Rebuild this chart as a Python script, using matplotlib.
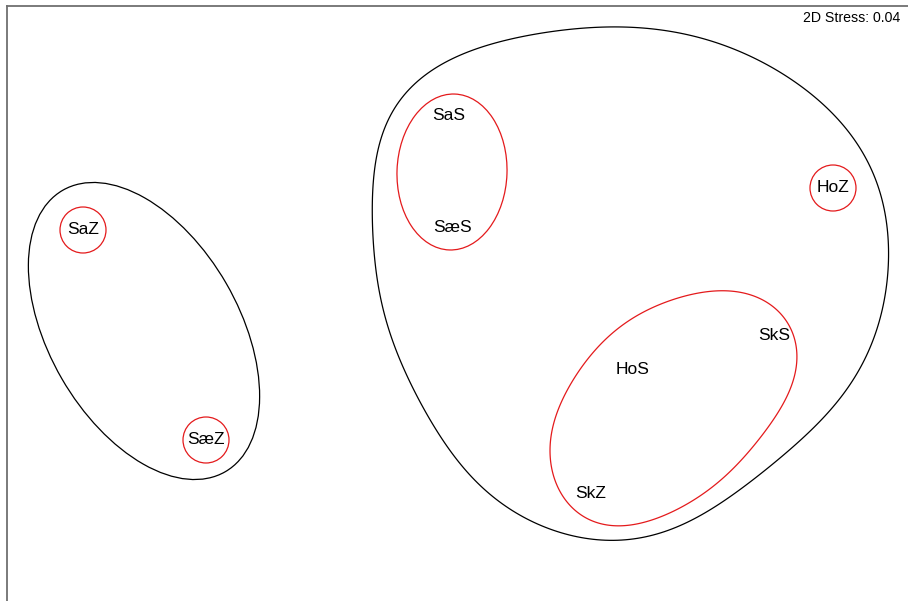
import numpy as np
import matplotlib
matplotlib.use("Agg")
import matplotlib.pyplot as plt
from matplotlib.patches import Ellipse, Polygon

# sample labels and their positions on the MDS plot (plot units)
labels = ["SaZ", "SæZ", "SaS", "SæS", "HoZ", "SkS", "HoS", "SkZ"]
mds_x = [83, 206, 449, 452, 833, 774, 633, 591]
mds_y = [230, 440, 116, 228, 188, 336, 369, 494]

# red overlays (higher similarity level): single samples get small circles
red_single = ["SaZ", "SæZ", "HoZ"]
red_radius = 23
# red ellipse round SaS / SæS: centre x, centre y, width, height, angle
red_ell_x = [452]
red_ell_y = [172]
red_ell_w = [110]
red_ell_h = [156]
red_ell_ang = [2]

# red outline round HoS / SkS / SkZ
red_out_x = [710, 670, 630, 590, 563, 550, 553, 565, 590, 617, 653, 687,
             733, 765, 787, 797, 790, 763]
red_out_y = [292, 300, 320, 357, 397, 447, 470, 500, 520, 526, 520, 503,
             470, 430, 397, 357, 327, 300]

# black overlay, left group (ellipse)
black_ell_x = [144]
black_ell_y = [331]
black_ell_w = [325]
black_ell_h = [190]
black_ell_ang = [60]

# black overlay, right group (smooth outline)
hull_x = [373, 375, 385, 400, 430, 480, 540, 610, 700, 790, 850, 878, 888,
          885, 865, 830, 780, 730, 680, 623, 565, 520, 467, 427, 397, 380]
hull_y = [230, 170, 125, 100, 72, 48, 33, 27, 38, 78, 135, 185, 230,
          290, 360, 410, 458, 497, 525, 541, 533, 515, 473, 413, 353, 297]

stress = 0.04


def smooth_outline(xs, ys, harmonics=4, n=400):
    # least-squares periodic (Fourier) fit through the outline points
    p = np.column_stack([xs, ys]).astype(float)
    seg = np.linalg.norm(np.roll(p, -1, axis=0) - p, axis=1)
    t = np.concatenate([[0], np.cumsum(seg)[:-1]]) / seg.sum() * 2 * np.pi

    def basis(tt):
        cols = [np.ones_like(tt)]
        for h in range(1, harmonics + 1):
            cols += [np.cos(h * tt), np.sin(h * tt)]
        return np.column_stack(cols)

    coef, *_ = np.linalg.lstsq(basis(t), p, rcond=None)
    tt = np.linspace(0, 2 * np.pi, n, endpoint=False)
    return basis(tt) @ coef


plt.rcParams['font.family'] = ['Liberation Sans', 'DejaVu Sans']

fig = plt.figure(figsize=(9.08, 6.01), dpi=100)
ax = fig.add_axes([7 / 908, 0, 1 - 7 / 908, 1 - 6 / 601])
ax.set_xlim(7, 908)
ax.set_ylim(601, 6)
ax.set_xticks([])
ax.set_yticks([])
for side in ["right", "bottom"]:
    ax.spines[side].set_visible(False)
for side in ["left", "top"]:
    ax.spines[side].set_color("#707070")
    ax.spines[side].set_linewidth(1.3)

red = "#e41a1c"

for lab, x, y in zip(labels, mds_x, mds_y):
    ax.text(x, y, lab, ha="center", va="center", fontsize=12.5, color="black")
    if lab in red_single:
        ax.add_patch(Ellipse((x, y), 2 * red_radius, 2 * red_radius,
                             fill=False, edgecolor=red, lw=0.9))

for cx, cy, w, h, a in zip(red_ell_x, red_ell_y, red_ell_w, red_ell_h, red_ell_ang):
    ax.add_patch(Ellipse((cx, cy), w, h, angle=a, fill=False, edgecolor=red, lw=0.9))

ax.add_patch(Polygon(smooth_outline(red_out_x, red_out_y, harmonics=5), closed=True,
                     fill=False, edgecolor=red, lw=0.9))

for cx, cy, w, h, a in zip(black_ell_x, black_ell_y, black_ell_w, black_ell_h, black_ell_ang):
    ax.add_patch(Ellipse((cx, cy), w, h, angle=a, fill=False, edgecolor="black", lw=0.9))

ax.add_patch(Polygon(smooth_outline(hull_x, hull_y, harmonics=8), closed=True,
                     fill=False, edgecolor="black", lw=0.9))

ax.text(900, 18, f"2D Stress: {stress:.2f}", ha="right", va="center", fontsize=10.2)

fig.savefig("out.png", dpi=100)
